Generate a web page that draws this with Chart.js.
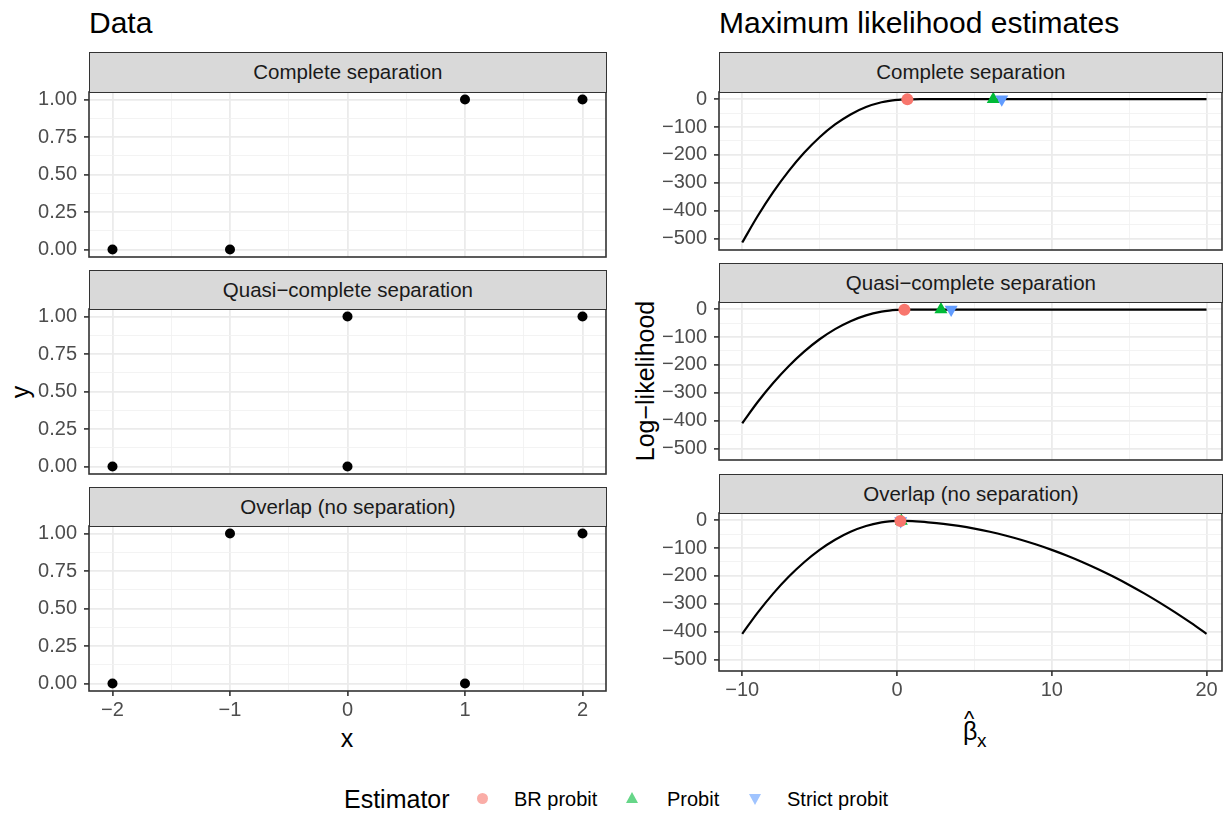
<!DOCTYPE html>
<html>
<head>
<meta charset="utf-8">
<script src="https://cdn.jsdelivr.net/npm/chart.js@4.4.0/dist/chart.umd.min.js"></script>
<style>
  body { margin: 0; background: #fff; font-family: "Liberation Sans", Arial, Helvetica, sans-serif; }
  #fig { position: relative; width: 1231px; height: 815px; overflow: hidden; }
  canvas { position: absolute; }
  .txt { position: absolute; white-space: nowrap; line-height: 1; }
  .strip { position: absolute; background: #D9D9D9; border: 1.6px solid #333; box-sizing: border-box;
           color: #1A1A1A; font-size: 20.5px; display: flex; align-items: center; justify-content: center; z-index: 2; }
</style>
</head>
<body>
<div id="fig">
  <div class="txt" style="left:89px;top:8px;font-size:30px;">Data</div>
  <div class="txt" style="left:719px;top:8px;font-size:30px;">Maximum likelihood estimates</div>

  <div class="txt" style="left:20px;top:392px;font-size:25px;transform:translate(-50%,-50%) rotate(-90deg);">y</div>
  <div class="txt" style="left:347px;top:738px;font-size:25px;transform:translate(-50%,-50%);">x</div>
  <div class="txt" style="left:645px;top:381px;font-size:25px;transform:translate(-50%,-50%) rotate(-90deg);">Log−likelihood</div>
  <div class="txt" style="left:963px;top:719px;font-size:25px;">β</div>
  <div class="txt" style="left:964px;top:708px;font-size:22px;">^</div>
  <div class="txt" style="left:977px;top:731px;font-size:19px;">x</div>

  <div class="txt" style="left:344px;top:787px;font-size:25px;">Estimator</div>
  <div style="position:absolute;left:477px;top:793px;width:11px;height:11px;border-radius:50%;background:#FAADA7;"></div>
  <div class="txt" style="left:514px;top:789px;font-size:20px;">BR probit</div>
  <div style="position:absolute;left:626px;top:792px;width:0;height:0;border-left:6.5px solid transparent;border-right:6.5px solid transparent;border-bottom:11px solid #66D688;"></div>
  <div class="txt" style="left:667px;top:789px;font-size:20px;">Probit</div>
  <div style="position:absolute;left:749px;top:794px;width:0;height:0;border-left:6.5px solid transparent;border-right:6.5px solid transparent;border-top:11px solid #A0C4FF;"></div>
  <div class="txt" style="left:787px;top:789px;font-size:20px;">Strict probit</div>
</div>
<script>
// datos de la izquierda (x, y observados)
const panelNames = ['Complete separation', 'Quasi−complete separation', 'Overlap (no separation)'];
const completeX = [-2, -1, 1, 2];
const completeY = [0, 0, 1, 1];
const quasiX = [-2, 0, 0, 2];
const quasiY = [0, 0, 1, 1];
const overlapX = [-2, -1, 1, 2];
const overlapY = [0, 1, 0, 1];

// curvas de log-verosimilitud
const betaGrid = [-10, -9, -8, -7, -6, -5, -4, -3, -2, -1, -0.5, 0, 0.25, 0.5, 1, 1.5,
  2, 3, 4, 5, 6, 7, 8, 9, 10, 11, 12, 13, 14, 15, 16, 17, 18, 19, 20];
const llComplete = [-514.3, -418.9, -333.4, -257.9, -192.3, -136.6, -90.7, -54.7, -28.3, -11.2, -6.0, -2.8, -1.8, -1.1, -0.4, -0.1,
  0, 0, 0, 0, 0, 0, 0, 0, 0, 0, 0, 0, 0, 0, 0, 0, 0, 0, 0];
const llQuasi = [-409.2, -333.0, -264.8, -204.5, -152.2, -107.9, -71.4, -42.9, -22.1, -9.0, -5.1, -2.8, -2.1, -1.7, -1.4, -1.4,
  -1.4, -1.4, -1.4, -1.4, -1.4, -1.4, -1.4, -1.4, -1.4, -1.4, -1.4, -1.4, -1.4, -1.4, -1.4, -1.4, -1.4, -1.4, -1.4];
const llOverlap = [-407.8, -331.6, -263.4, -203.1, -150.8, -106.5, -70.0, -41.5, -20.8, -7.9, -4.4, -2.8, -2.6, -2.7, -3.7, -5.4,
  -7.6, -13.2, -20.7, -30.1, -41.5, -54.8, -70.0, -87.3, -106.5, -127.7, -150.8, -176.0, -203.1, -232.3, -263.4, -296.5, -331.6, -368.7, -407.8];

// estimaciones (complete, quasi, overlap)
const brProbitBeta = [0.67, 0.48, 0.22];
const brProbitLL = [-0.7, -1.8, -2.6];
const probitBeta = [6.22, 2.84, 0.28];
const probitLL = [0, -1.4, -2.6];
const strictBeta = [6.77, 3.5, 0.24];
const strictLL = [0, -1.4, -2.6];

// ticks
const yLeftMajor = [0, 0.25, 0.5, 0.75, 1];
const yLeftMinor = [0.125, 0.375, 0.625, 0.875];
const xLeftMajor = [-2, -1, 0, 1, 2];
const xLeftMinor = [-1.5, -0.5, 0.5, 1.5];
const yRightMajor = [-500, -400, -300, -200, -100, 0];
const yRightMinor = [-450, -350, -250, -150, -50];
const xRightMajor = [-10, 0, 10, 20];
const xRightMinor = [-5, 5, 15];

Chart.defaults.font.family = '"Liberation Sans", Arial, Helvetica, sans-serif';

const PAD = 14;
const fig = document.getElementById('fig');
const minus = s => String(s).replace('-', '−');

const panelBorder = {
  id: 'panelBorder',
  afterDraw(chart) {
    const { ctx, chartArea: a } = chart;
    ctx.save();
    ctx.strokeStyle = '#333333';
    ctx.lineWidth = 1.6;
    ctx.strokeRect(a.left, a.top, a.right - a.left, a.bottom - a.top);
    ctx.restore();
  }
};

function axis(min, max, major, minor, show, fmt, size, vertical) {
  const isMajor = v => major.includes(v);
  return {
    type: 'linear', min, max,
    afterBuildTicks: s => { s.ticks = major.concat(minor).sort((a, b) => a - b).map(v => ({ value: v })); },
    afterFit: s => {
      if (vertical) s.width = size; else s.height = size;
      s.paddingLeft = s.paddingRight = s.paddingTop = s.paddingBottom = 0;
    },
    border: { display: false },
    grid: {
      color: c => isMajor(c.tick.value) ? '#EBEBEB' : '#F2F2F2',
      lineWidth: c => isMajor(c.tick.value) ? 1.8 : 0.9,
      drawTicks: show,
      tickLength: 5,
      tickColor: c => isMajor(c.tick.value) ? '#333333' : 'rgba(0,0,0,0)',
      tickWidth: 1.6
    },
    ticks: {
      display: show, autoSkip: false, maxRotation: 0, minRotation: 0,
      padding: vertical ? 7 : 2,
      color: '#4D4D4D',
      font: { size: 20 },
      callback: v => isMajor(v) ? fmt(v) : ''
    }
  };
}

function panel(box, yw, bottom, strip, datasets, xs, ys) {
  const w = box.r - box.l, h = box.b - box.t;
  const bh = bottom ? 45 : PAD;
  const cv = document.createElement('canvas');
  cv.width = yw + w + PAD;
  cv.height = PAD + h + bh;
  cv.style.left = (box.l - yw) + 'px';
  cv.style.top = (box.t - PAD) + 'px';
  fig.appendChild(cv);

  const s = document.createElement('div');
  s.className = 'strip';
  s.style.left = box.l + 'px';
  s.style.width = (w + 0.8) + 'px';
  s.style.top = strip + 'px';
  s.style.height = (box.t - strip + 0.8) + 'px';
  s.textContent = box.name;
  fig.appendChild(s);

  new Chart(cv, {
    type: 'scatter',
    data: { datasets },
    options: {
      responsive: false,
      animation: false,
      layout: { padding: { top: PAD, right: PAD, bottom: bottom ? 0 : PAD, left: 0 } },
      plugins: { legend: { display: false }, tooltip: { enabled: false } },
      scales: {
        x: axis(xs.min, xs.max, xs.major, xs.minor, bottom, xs.fmt, bottom ? 45 : 0, false),
        y: axis(ys.min, ys.max, ys.major, ys.minor, true, ys.fmt, yw, true)
      }
    },
    plugins: [panelBorder]
  });
}

const xsLeft = { min: -2.2, max: 2.2, major: xLeftMajor, minor: xLeftMinor, fmt: v => minus(v) };
const ysLeft = { min: -0.05, max: 1.05, major: yLeftMajor, minor: yLeftMinor, fmt: v => v.toFixed(2) };
const xsRight = { min: -11.5, max: 21.0, major: xRightMajor, minor: xRightMinor, fmt: v => minus(v) };
const ysRight = { min: -541, max: 25.75, major: yRightMajor, minor: yRightMinor, fmt: v => minus(v) };

const leftData = [[completeX, completeY], [quasiX, quasiY], [overlapX, overlapY]];
const llCurves = [llComplete, llQuasi, llOverlap];
const leftBoxes = [{ t: 92, b: 257 }, { t: 309, b: 474 }, { t: 526, b: 691 }];
const leftStrips = [52, 270, 487];
const rightBoxes = [{ t: 92, b: 250 }, { t: 302, b: 460 }, { t: 513, b: 671 }];
const rightStrips = [52, 263, 474];

for (let i = 0; i < 3; i++) {
  const [xv, yv] = leftData[i];
  panel({ l: 89, r: 606, t: leftBoxes[i].t, b: leftBoxes[i].b, name: panelNames[i] }, 85, i === 2, leftStrips[i], [{
    data: xv.map((x, k) => ({ x, y: yv[k] })),
    pointRadius: 5, pointBackgroundColor: '#000', pointBorderWidth: 0
  }], xsLeft, ysLeft);

  panel({ l: 719, r: 1222, t: rightBoxes[i].t, b: rightBoxes[i].b, name: panelNames[i] }, 100, i === 2, rightStrips[i], [
    {
      data: [{ x: brProbitBeta[i], y: brProbitLL[i] }],
      pointStyle: 'circle', pointRadius: 6, pointBackgroundColor: '#F8766D', pointBorderWidth: 0, order: 0
    },
    {
      data: [{ x: strictBeta[i], y: strictLL[i] }],
      pointStyle: 'triangle', rotation: 180, pointRadius: 7.5, pointBackgroundColor: '#619CFF', pointBorderWidth: 0, order: 1
    },
    {
      data: [{ x: probitBeta[i], y: probitLL[i] }],
      pointStyle: 'triangle', pointRadius: 7.5, pointBackgroundColor: '#00BA38', pointBorderWidth: 0, order: 2
    },
    {
      data: betaGrid.map((b, k) => ({ x: b, y: llCurves[i][k] })),
      showLine: true, pointRadius: 0, borderColor: '#000', borderWidth: 2.2,
      cubicInterpolationMode: 'monotone', order: 3
    }
  ], xsRight, ysRight);
}
</script>
</body>
</html>
